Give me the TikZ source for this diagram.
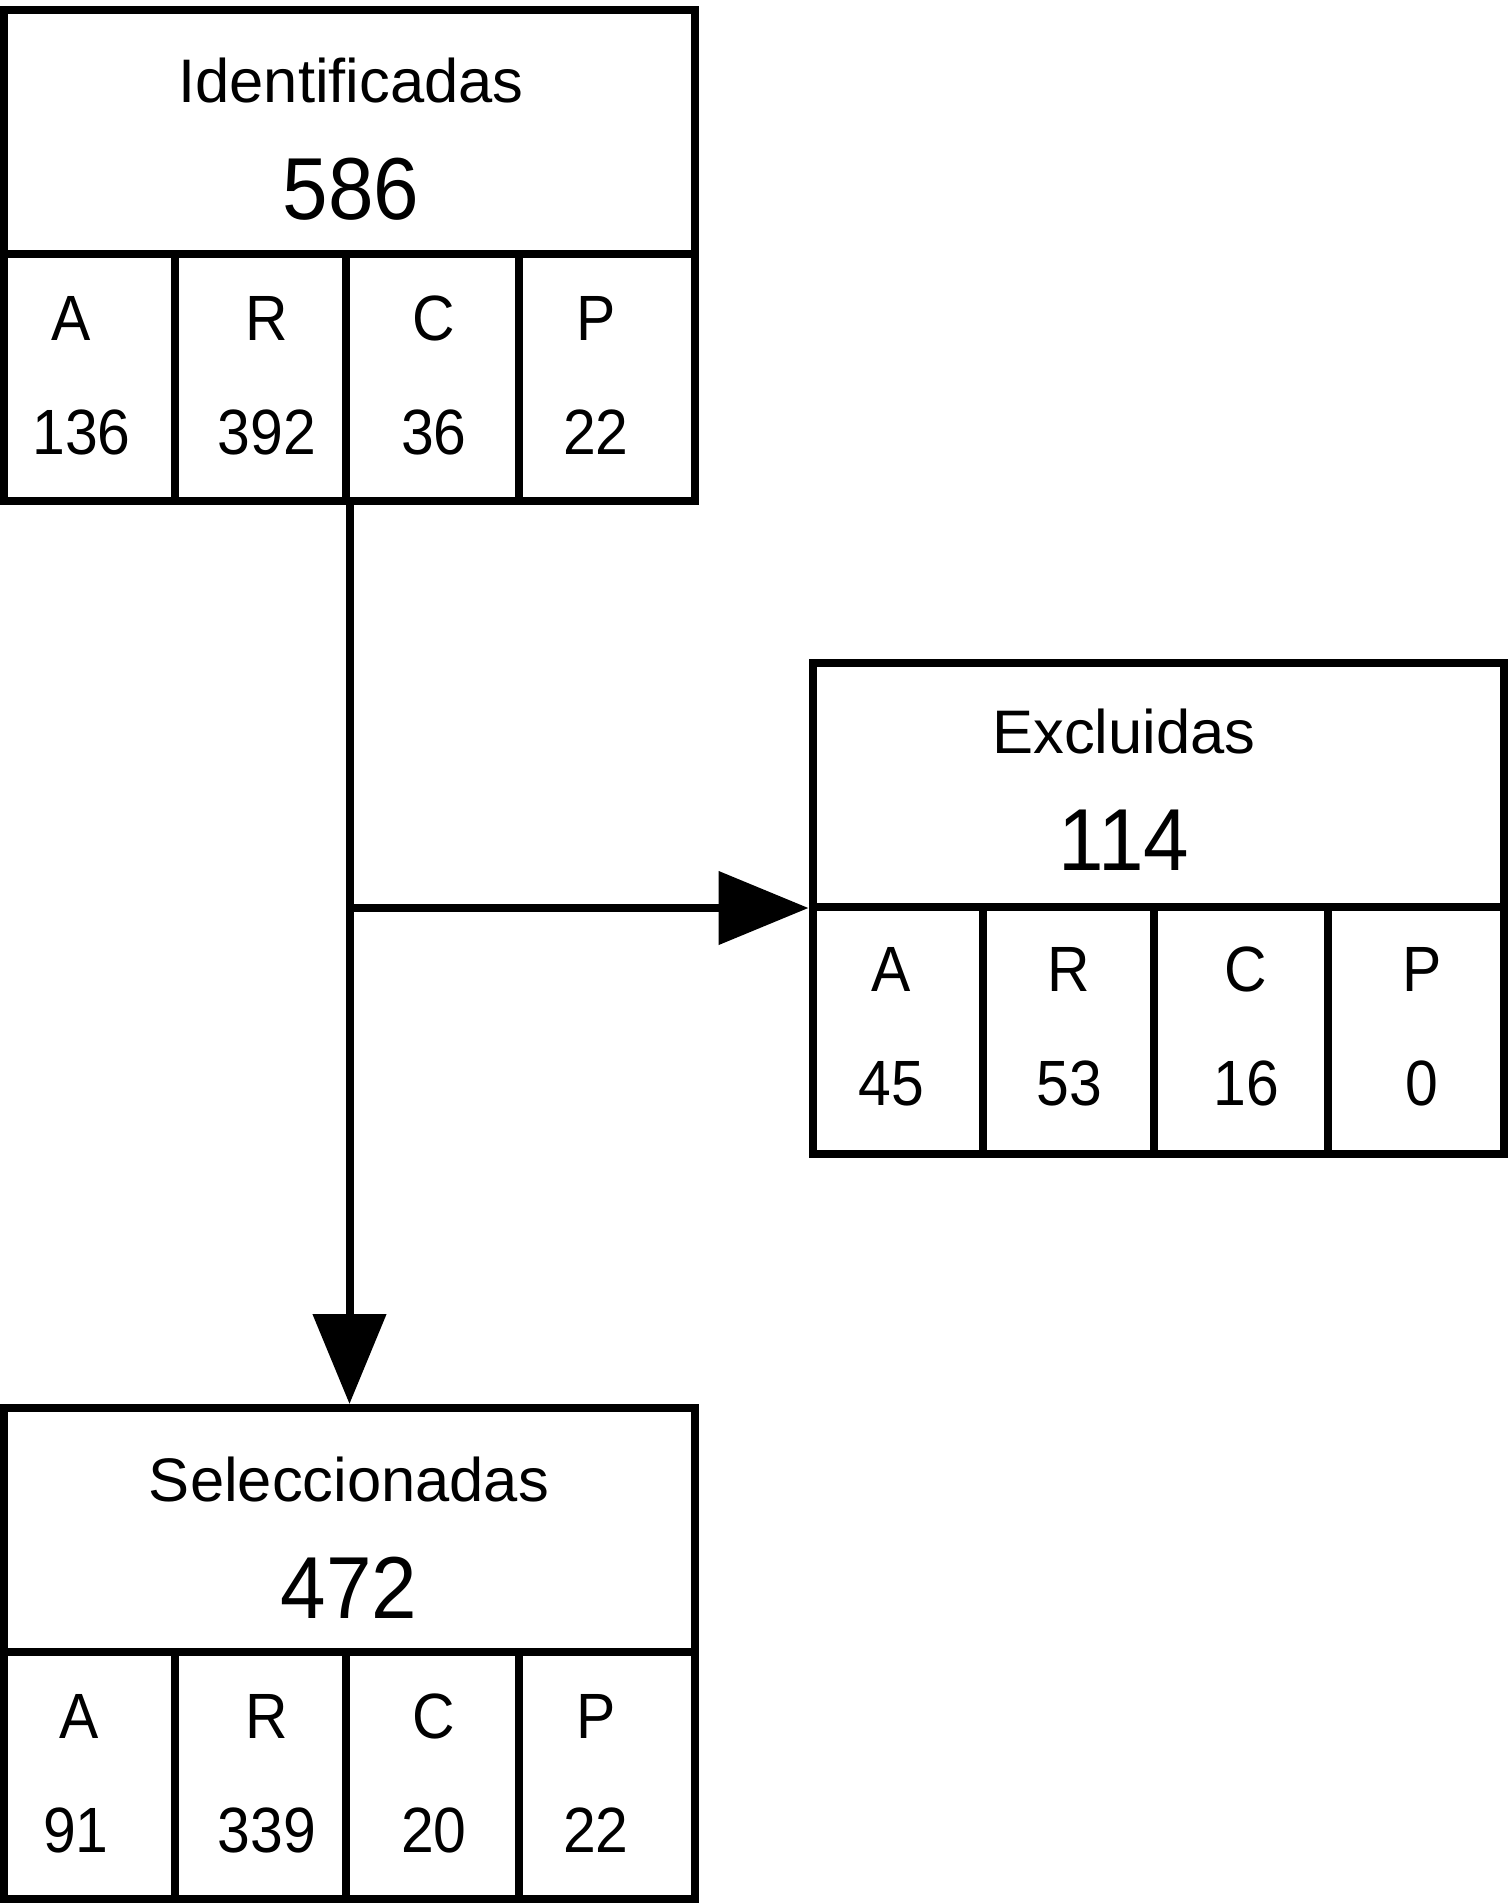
\documentclass[tikz,border=0pt]{standalone}
\usepackage{fontspec}
\setmainfont{Liberation Sans}
\newfontfamily\cellfont{Liberation Sans}[FakeStretch=0.92]
\newfontfamily\bigfont{Liberation Sans}[FakeStretch=0.93]
\usetikzlibrary{arrows.meta}
\begin{document}
\begin{tikzpicture}[x=1pt,y=-1pt,line width=8pt,
  box/.style={draw,rectangle,minimum width=691pt,minimum height=491pt,inner sep=0pt,outer sep=4pt},
  ttl/.style={inner sep=0pt,font=\fontsize{61.5}{70}\selectfont},
  big/.style={inner sep=0pt,font=\bigfont\fontsize{88}{96}\selectfont},
  cell/.style={inner sep=0pt,font=\cellfont\fontsize{64}{72}\selectfont},
  conn/.style={-{Triangle[length=90pt,width=72pt]}}]
\useasboundingbox (0,0) rectangle (1507,1903);
% boxes
\node[box] (idf) at (349.5,255.5) {};
\node[box] (exc) at (1158,908) {};
\node[box] (sel) at (349.5,1653.5) {};
% dividers
\foreach \b in {idf,exc,sel}{
  \draw ([yshift=-248pt]\b.north west) -- ([yshift=-248pt]\b.north east);
  \foreach \c in {174.5,345.5,519}{
    \draw ([xshift=\c pt,yshift=-248pt]\b.north west) -- ([xshift=\c pt]\b.south west);
  }
}
% texts: Identificadas
\node[ttl] (idft) at (351,81) {Identificadas};
\node[big] (idfn) at (351,189.5) {586};
\node[cell] (idfa) at (71,318.5) {A};
\node[cell] (idfr) at (267,318.5) {R};
\node[cell] (idfc) at (434,318.5) {C};
\node[cell] (idfp) at (596,318.5) {P};
\node[cell] (idfa2) at (81.5,432.5) {136};
\node[cell] (idfr2) at (267,432.5) {392};
\node[cell] (idfc2) at (434,432.5) {36};
\node[cell] (idfp2) at (596,432.5) {22};
% Excluidas
\node[ttl] (exct) at (1124,732) {Excluidas};
\node[big] (excn) at (1124,840.5) {114};
\node[cell] (exca) at (891,969.5) {A};
\node[cell] (excr) at (1069,969.5) {R};
\node[cell] (excc) at (1246,969.5) {C};
\node[cell] (excp) at (1422,969.5) {P};
\node[cell] (exca2) at (891,1083.5) {45};
\node[cell] (excr2) at (1069,1083.5) {53};
\node[cell] (excc2) at (1246,1083.5) {16};
\node[cell] (excp2) at (1422,1083.5) {0};
% Seleccionadas
\node[ttl] (selt) at (349,1479) {Seleccionadas};
\node[big] (seln) at (349,1588) {472};
\node[cell] (sela) at (79,1716.5) {A};
\node[cell] (selr) at (267,1716.5) {R};
\node[cell] (selc) at (434,1716.5) {C};
\node[cell] (selp) at (596,1716.5) {P};
\node[cell] (sela2) at (76,1830.5) {91};
\node[cell] (selr2) at (267,1830.5) {339};
\node[cell] (selc2) at (434,1830.5) {20};
\node[cell] (selp2) at (596,1830.5) {22};
% connectors
\coordinate (branch) at (idf.south |- exc.west);
\draw[conn] (idf.south) -- (sel.north);
\draw[conn] (branch) -- (exc.west);
\end{tikzpicture}
\end{document}
